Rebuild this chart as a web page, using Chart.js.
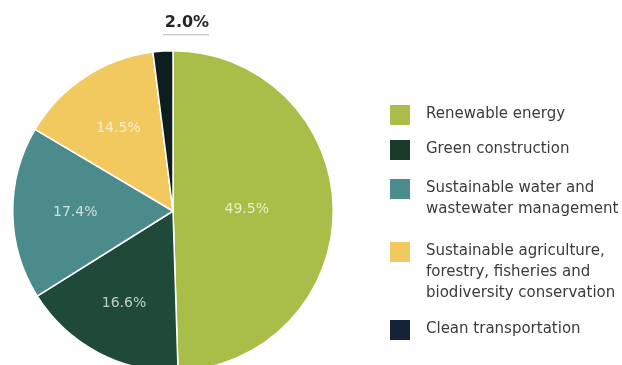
<!DOCTYPE html>
<html>
<head>
<meta charset="utf-8">
<script src="https://cdn.jsdelivr.net/npm/chart.js@4.4.1/dist/chart.umd.min.js"></script>
<style>
  html, body { margin: 0; padding: 0; background: #fff; overflow: hidden; }
  #wrap { width: 622px; height: 380px; }
</style>
</head>
<body>
<div id="wrap"><canvas id="greenChart" width="622" height="380"></canvas></div>
<script>
// Allocation of proceeds by green category (%)
const categories = [
    'Renewable energy',
    'Green construction',
    'Sustainable water and\nwastewater management',
    'Sustainable agriculture,\nforestry, fisheries and\nbiodiversity conservation',
    'Clean transportation'
];
const shares = [49.5, 16.6, 17.4, 14.5, 2.0];
const sliceColors = ['#a9be48', '#1f4a39', '#4b8b8c', '#f1c95f', '#0e1d1d'];
const legendColors = ['#a9be48', '#1a3b2a', '#4b8b8c', '#f1c95f', '#13233a'];

// Draws the percentage labels on/above the slices
const sliceLabels = {
    id: 'sliceLabels',
    afterDatasetsDraw(chart) {
        const ctx = chart.ctx;
        const arcs = chart.getDatasetMeta(0).data;
        const radiusFactor = [0.46, 0.65, 0.61, 0.62];
        ctx.save();
        ctx.textAlign = 'center';
        ctx.textBaseline = 'middle';
        arcs.forEach((arc, i) => {
            const p = arc.getProps(['x', 'y', 'startAngle', 'endAngle', 'outerRadius'], true);
            const mid = (p.startAngle + p.endAngle) / 2;
            const text = shares[i].toFixed(1) + '%';
            if (i < radiusFactor.length) {
                const r = p.outerRadius * radiusFactor[i];
                ctx.font = '14px "DejaVu Sans"';
                ctx.fillStyle = 'rgba(255,255,245,0.72)';
                ctx.fillText(text, p.x + Math.cos(mid) * r, p.y + Math.sin(mid) * r);
            } else {
                // small slice: label sits above the pie
                const ox = p.x + Math.cos(mid) * p.outerRadius;
                const ty = p.y - p.outerRadius - 28;
                ctx.font = '600 16px "DejaVu Sans"';
                ctx.fillStyle = '#262626';
                ctx.fillText(text, ox + 24, ty);
                ctx.strokeStyle = 'rgba(120,130,140,0.6)';
                ctx.lineWidth = 1;
                ctx.beginPath();
                ctx.moveTo(ox, ty + 12);
                ctx.lineTo(ox + 46, ty + 12);
                ctx.stroke();
            }
        });
        ctx.restore();
    }
};

// Legend on the right, with wrapped category names
const sideLegend = {
    id: 'sideLegend',
    afterDraw(chart) {
        const ctx = chart.ctx;
        const tops = [105, 140, 179, 242, 320];
        ctx.save();
        ctx.font = '15px "DejaVu Sans"';
        ctx.textBaseline = 'middle';
        ctx.textAlign = 'left';
        categories.forEach((name, i) => {
            ctx.fillStyle = legendColors[i];
            ctx.fillRect(390, tops[i], 20, 20);
            ctx.fillStyle = '#3b3b3b';
            name.split('\n').forEach((line, j) => {
                ctx.fillText(line, 426, tops[i] + 9 + j * 21);
            });
        });
        ctx.restore();
    }
};

new Chart(document.getElementById('greenChart'), {
    type: 'pie',
    data: {
        labels: categories,
        datasets: [{
            data: shares,
            backgroundColor: sliceColors,
            borderColor: '#ffffff',
            borderWidth: 1.5
        }]
    },
    options: {
        responsive: false,
        animation: false,
        layout: {
            padding: { left: 12, right: 288, top: 50, bottom: 8 }
        },
        plugins: {
            legend: { display: false },
            tooltip: { enabled: false }
        }
    },
    plugins: [sliceLabels, sideLegend]
});
</script>
</body>
</html>
